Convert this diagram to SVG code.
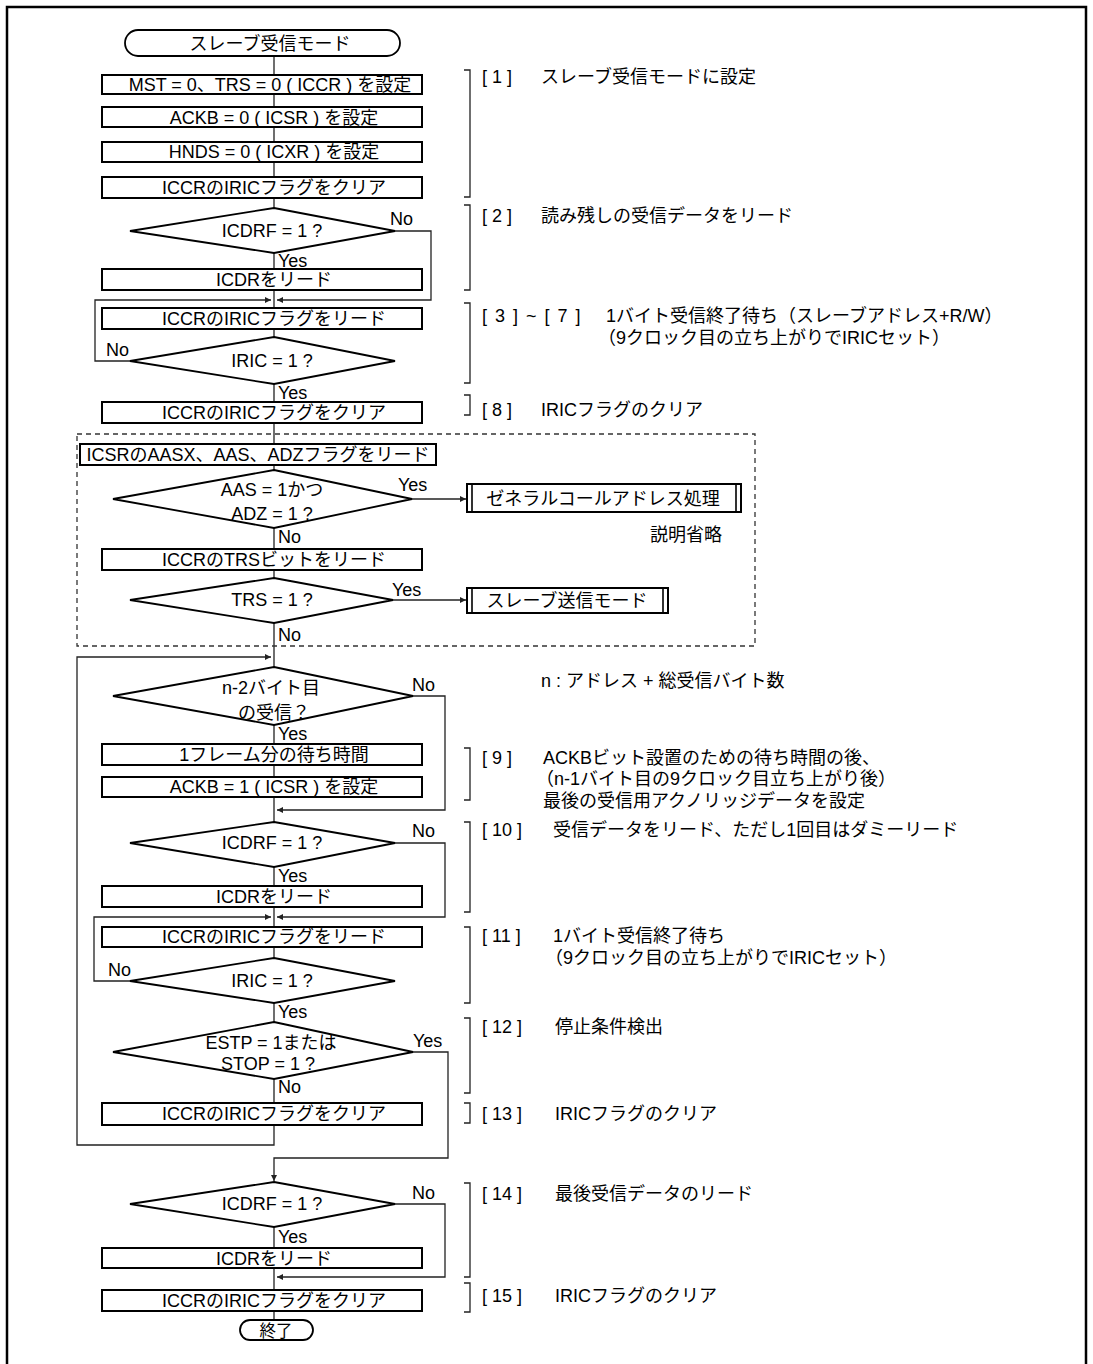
<svg xmlns="http://www.w3.org/2000/svg" width="1093" height="1364" viewBox="0 0 1093 1364">
<style>
.t{font-family:'Liberation Sans','Noto Sans CJK JP',sans-serif;font-size:18px;fill:#000}
.c{text-anchor:middle}
.box{fill:#fff;stroke:#000;stroke-width:2}
.dec{fill:#fff;stroke:#000;stroke-width:1.8}
.term{fill:#fff;stroke:#000;stroke-width:1.8}
.ln{fill:none;stroke:#222;stroke-width:1.3}
.ar{fill:none;stroke:#222;stroke-width:1.3;marker-end:url(#ah)}
.br{fill:none;stroke:#222;stroke-width:1.3}
.dash{fill:none;stroke:#333;stroke-width:1.3;stroke-dasharray:5 4}
.frame{fill:none;stroke:#000;stroke-width:2.5}
</style>
<defs>
<marker id="ah" viewBox="0 0 10 10" refX="10" refY="5" markerWidth="8" markerHeight="6" orient="auto" markerUnits="userSpaceOnUse">
<path d="M0,0 L10,5 L0,10 z" fill="#222"/>
</marker>
</defs>
<rect width="1093" height="1364" fill="#fff"/>
<path class="frame" d="M7,1364 V7 H1086 V1364"/>

<g id="connectors">
<path class="ln" d="M274,56 V75 M274,94 V107 M274,127 V142 M274,162 V177 M274,198 V208 M274,253 V269 M274,290 V308 M274,329 V337 M274,384 V402 M274,423 V444 M274,465 V470 M274,528 V549 M274,570 V578 M274,623 V667 M274,725 V744 M274,765 V777 M274,797 V822 M274,867 V886 M274,907 V927 M274,947 V958 M274,1003 V1022 M274,1079 V1103 M274,1227 V1248 M274,1268 V1290 M274,1311 V1321"/>
<path class="ar" d="M395,231 H431 V300 H277"/>
<path class="ar" d="M130,361 H95 V300 H271"/>
<path class="ar" d="M412,499 H466"/>
<path class="ar" d="M393,600 H466"/>
<path class="ar" d="M274,1125 V1145 H77 V657 H271"/>
<path class="ar" d="M413,696 H445 V810 H277"/>
<path class="ar" d="M395,843 H445 V917 H277"/>
<path class="ar" d="M130,981 H94 V917 H271"/>
<path class="ar" d="M413,1052 H448 V1158 H274 V1181"/>
<path class="ar" d="M395,1204 H445 V1277 H277"/>
</g>

<g id="labels">
<text class="t" x="390" y="225">No</text>
<text class="t" x="278" y="267">Yes</text>
<text class="t" x="106" y="356">No</text>
<text class="t" x="278" y="399">Yes</text>
<text class="t" x="398" y="491">Yes</text>
<text class="t" x="278" y="543">No</text>
<text class="t" x="392" y="596">Yes</text>
<text class="t" x="278" y="641">No</text>
<text class="t" x="412" y="691">No</text>
<text class="t" x="278" y="740">Yes</text>
<text class="t" x="412" y="837">No</text>
<text class="t" x="278" y="882">Yes</text>
<text class="t" x="108" y="976">No</text>
<text class="t" x="278" y="1018">Yes</text>
<text class="t" x="413" y="1047">Yes</text>
<text class="t" x="278" y="1093">No</text>
<text class="t" x="412" y="1199">No</text>
<text class="t" x="278" y="1243">Yes</text>
</g>

<g id="dashed-region">
<rect class="dash" x="77" y="434" width="678" height="212"/>
<text class="t" x="650" y="541">説明省略</text>
</g>

<g id="start">
<rect class="term" x="125" y="30" width="275" height="26" rx="13"/>
<text class="t c" x="270" y="50">スレーブ受信モード</text>
</g>
<g id="set-mst-trs">
<rect class="box" x="102" y="75" width="320" height="19"/>
<text class="t c" x="270" y="91">MST = 0、TRS = 0 ( ICCR ) を設定</text>
</g>
<g id="set-ackb0">
<rect class="box" x="102" y="107" width="320" height="20"/>
<text class="t c" x="274" y="124">ACKB = 0 ( ICSR ) を設定</text>
</g>
<g id="set-hnds">
<rect class="box" x="102" y="142" width="320" height="20"/>
<text class="t c" x="274" y="158">HNDS = 0 ( ICXR ) を設定</text>
</g>
<g id="clear-iric-1">
<rect class="box" x="102" y="177" width="320" height="21"/>
<text class="t c" x="274" y="194">ICCRのIRICフラグをクリア</text>
</g>
<g id="dec-icdrf-1">
<polygon class="dec" points="274,208 395,231 274,253 130,231"/>
<text class="t c" x="272" y="237">ICDRF = 1 ?</text>
</g>
<g id="read-icdr-1">
<rect class="box" x="102" y="269" width="320" height="21"/>
<text class="t c" x="274" y="286">ICDRをリード</text>
</g>
<g id="read-iric-1">
<rect class="box" x="102" y="308" width="320" height="21"/>
<text class="t c" x="274" y="325">ICCRのIRICフラグをリード</text>
</g>
<g id="dec-iric-1">
<polygon class="dec" points="274,337 395,361 274,384 130,361"/>
<text class="t c" x="272" y="367">IRIC = 1 ?</text>
</g>
<g id="clear-iric-2">
<rect class="box" x="102" y="402" width="320" height="21"/>
<text class="t c" x="274" y="419">ICCRのIRICフラグをクリア</text>
</g>
<g id="read-aas">
<rect class="box" x="80" y="444" width="356" height="21"/>
<text class="t c" x="258" y="461">ICSRのAASX、AAS、ADZフラグをリード</text>
</g>
<g id="dec-aas">
<polygon class="dec" points="274,470 412,499 274,528 113,499"/>
<text class="t c" x="272" y="496">AAS = 1かつ</text>
<text class="t c" x="272" y="520">ADZ = 1 ?</text>
</g>
<g id="general-call">
<rect class="box" x="467" y="484" width="274" height="28"/>
<path class="ln" d="M472,484 V512 M736,484 V512" style="stroke:#000;stroke-width:1.6"/>
<text class="t c" x="603" y="505">ゼネラルコールアドレス処理</text>
</g>
<g id="read-trs">
<rect class="box" x="102" y="549" width="320" height="21"/>
<text class="t c" x="274" y="566">ICCRのTRSビットをリード</text>
</g>
<g id="dec-trs">
<polygon class="dec" points="274,578 393,600 274,623 130,600"/>
<text class="t c" x="272" y="606">TRS = 1 ?</text>
</g>
<g id="slave-tx">
<rect class="box" x="467" y="588" width="201" height="25"/>
<path class="ln" d="M472,588 V613 M663,588 V613" style="stroke:#000;stroke-width:1.6"/>
<text class="t c" x="567" y="607">スレーブ送信モード</text>
</g>
<g id="dec-n2">
<polygon class="dec" points="274,667 413,696 274,725 113,696"/>
<text class="t c" x="271" y="694">n-2バイト目</text>
<text class="t c" x="274" y="719">の受信？</text>
</g>
<g id="wait-frame">
<rect class="box" x="102" y="744" width="320" height="21"/>
<text class="t c" x="274" y="761">1フレーム分の待ち時間</text>
</g>
<g id="set-ackb1">
<rect class="box" x="102" y="777" width="320" height="20"/>
<text class="t c" x="274" y="793">ACKB = 1 ( ICSR ) を設定</text>
</g>
<g id="dec-icdrf-2">
<polygon class="dec" points="274,822 395,843 274,867 130,843"/>
<text class="t c" x="272" y="849">ICDRF = 1 ?</text>
</g>
<g id="read-icdr-2">
<rect class="box" x="102" y="886" width="320" height="21"/>
<text class="t c" x="274" y="903">ICDRをリード</text>
</g>
<g id="read-iric-2">
<rect class="box" x="102" y="927" width="320" height="20"/>
<text class="t c" x="274" y="943">ICCRのIRICフラグをリード</text>
</g>
<g id="dec-iric-2">
<polygon class="dec" points="274,958 395,981 274,1003 130,981"/>
<text class="t c" x="272" y="987">IRIC = 1 ?</text>
</g>
<g id="dec-stop">
<polygon class="dec" points="274,1022 413,1052 274,1079 113,1052"/>
<text class="t c" x="271" y="1049">ESTP = 1または</text>
<text class="t c" x="268" y="1070">STOP = 1 ?</text>
</g>
<g id="clear-iric-3">
<rect class="box" x="102" y="1103" width="320" height="22"/>
<text class="t c" x="274" y="1120">ICCRのIRICフラグをクリア</text>
</g>
<g id="dec-icdrf-3">
<polygon class="dec" points="274,1182 395,1204 274,1227 130,1204"/>
<text class="t c" x="272" y="1210">ICDRF = 1 ?</text>
</g>
<g id="read-icdr-3">
<rect class="box" x="102" y="1248" width="320" height="20"/>
<text class="t c" x="274" y="1265">ICDRをリード</text>
</g>
<g id="clear-iric-4">
<rect class="box" x="102" y="1290" width="320" height="21"/>
<text class="t c" x="274" y="1307">ICCRのIRICフラグをクリア</text>
</g>
<g id="end">
<rect class="term" x="240" y="1320" width="73" height="20" rx="10"/>
<text class="t c" x="276" y="1337" style="font-size:16.5px">終了</text>
</g>

<g id="notes">
<path class="br" d="M464,70 H470 V197 H464"/>
<text class="t" x="482" y="83">[ 1 ]</text>
<text class="t" x="541" y="83">スレーブ受信モードに設定</text>
<path class="br" d="M464,205 H470 V290 H464"/>
<text class="t" x="482" y="222">[ 2 ]</text>
<text class="t" x="541" y="222">読み残しの受信データをリード</text>
<path class="br" d="M464,303 H470 V383 H464"/>
<text class="t" x="482" y="322" style="word-spacing:3px">[ 3 ] ~ [ 7 ]</text>
<text class="t" x="606" y="322">1バイト受信終了待ち（スレーブアドレス+R/W）</text>
<text class="t" x="598" y="344">（9クロック目の立ち上がりでIRICセット）</text>
<path class="br" d="M464,395 H470 V415 H464"/>
<text class="t" x="482" y="416">[ 8 ]</text>
<text class="t" x="541" y="416">IRICフラグのクリア</text>
<text class="t" x="541" y="687">n : アドレス + 総受信バイト数</text>
<path class="br" d="M464,748 H470 V800 H464"/>
<text class="t" x="482" y="764">[ 9 ]</text>
<text class="t" x="543" y="764">ACKBビット設置のための待ち時間の後、</text>
<text class="t" x="536" y="785">（n-1バイト目の9クロック目立ち上がり後）</text>
<text class="t" x="543" y="807">最後の受信用アクノリッジデータを設定</text>
<path class="br" d="M464,822 H470 V912 H464"/>
<text class="t" x="482" y="836">[ 10 ]</text>
<text class="t" x="553" y="836">受信データをリード、ただし1回目はダミーリード</text>
<path class="br" d="M464,927 H470 V1003 H464"/>
<text class="t" x="482" y="942">[ 11 ]</text>
<text class="t" x="553" y="942">1バイト受信終了待ち</text>
<text class="t" x="545" y="964">（9クロック目の立ち上がりでIRICセット）</text>
<path class="br" d="M464,1018 H470 V1093 H464"/>
<text class="t" x="482" y="1033">[ 12 ]</text>
<text class="t" x="555" y="1033">停止条件検出</text>
<path class="br" d="M464,1103 H470 V1123 H464"/>
<text class="t" x="482" y="1120">[ 13 ]</text>
<text class="t" x="555" y="1120">IRICフラグのクリア</text>
<path class="br" d="M464,1183 H470 V1277 H464"/>
<text class="t" x="482" y="1200">[ 14 ]</text>
<text class="t" x="555" y="1200">最後受信データのリード</text>
<path class="br" d="M464,1283 H470 V1312 H464"/>
<text class="t" x="482" y="1302">[ 15 ]</text>
<text class="t" x="555" y="1302">IRICフラグのクリア</text>
</g>
</svg>
